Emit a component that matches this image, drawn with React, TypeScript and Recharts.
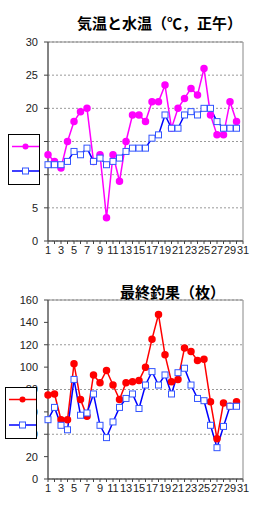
import { LineChart, Line, XAxis, YAxis, CartesianGrid, ReferenceArea } from 'recharts';

const days = [1, 2, 3, 4, 5, 6, 7, 8, 9, 10, 11, 12, 13, 14, 15, 16, 17, 18, 19, 20, 21, 22, 23, 24, 25, 26, 27, 28, 29, 30, 31];
const dayLabels = [1, 3, 5, 7, 9, 11, 13, 15, 17, 19, 21, 23, 25, 27, 29, 31];

// 気温と水温
const airTemp = [13, 12, 11, 15, 18, 19.5, 20, 12, 13, 3.5, 13, 9, 15, 19, 19, 18, 21, 21, 23.5, 17, 20, 21.5, 23, 22, 26, 19, 16, 16, 21, 18, null];
const waterTemp = [11.5, 11.5, 11.5, 12, 13.5, 13, 14, 12, 12.5, 11.5, 12, 12.5, 13.5, 14, 14, 14, 15.5, 16, 19, 17, 17, 19, 19.5, 19, 20, 20, 18, 17, 17, 17, null];
const tempTicks = [0, 5, 10, 15, 20, 25, 30];

// 最終釣果
const catchA = [75, 76, 53, 53, 103, 71, 56, 93, 86, 97, 84, 71, 86, 87, 88, 100, 125, 147, 111, 87, 89, 117, 114, 106, 107, 69, 36, 68, 65, 69, null];
const catchB = [53, 64, 48, 44, 89, 57, 59, 76, 48, 37, 51, 64, 72, 76, 63, 84, 96, 84, 93, 76, 95, 99, 84, 72, 70, 48, 28, 47, 65, 65, null];
const catchTicks = [0, 20, 40, 60, 80, 100, 120, 140, 160];

const MAGENTA = '#ff00ff';
const RED = '#ff0000';
const BLUE = '#0000ff';
const SQUARE = '#3355ff';
const FONT = '"Liberation Sans", Arial, sans-serif';
const JP_FONT = '"Noto Sans CJK JP", sans-serif';

const tempData = days.map((d, i) => ({ day: d, air: airTemp[i], water: waterTemp[i] }));
const catchData = days.map((d, i) => ({ day: d, a: catchA[i], b: catchB[i] }));

const tick = { fontSize: 11, fontFamily: FONT, fill: '#222' };

const SquareDot = (props: any) => {
  const { cx, cy, index } = props;
  if (cx == null || cy == null || props.value == null) return <g key={`s${index}`} />;
  return <rect key={`s${index}`} x={cx - 3} y={cy - 3} width={6} height={6} fill="#fff" stroke={SQUARE} strokeWidth={1} />;
};

function LegendBox({ left, top, width, height, rows, lineLeft, lineRight, color }: any) {
  return (
    <svg style={{ position: 'absolute', left, top }} width={width + 4} height={height + 2}>
      <rect x={0.5} y={0.5} width={width} height={height} fill="#fff" stroke="#000" strokeWidth={1} />
      <line x1={lineLeft} x2={lineRight} y1={rows[0]} y2={rows[0]} stroke={color} strokeWidth={1.5} />
      <circle cx={(lineLeft + lineRight) / 2} cy={rows[0]} r={3} fill={color} />
      <line x1={lineLeft} x2={lineRight} y1={rows[1]} y2={rows[1]} stroke={BLUE} strokeWidth={1.5} />
      <rect x={(lineLeft + lineRight) / 2 - 3} y={rows[1] - 3} width={6} height={6} fill="#fff" stroke={SQUARE} />
    </svg>
  );
}

function Panel({ data, keys, colors, ticks, max, top, bottom }: any) {
  return (
    <LineChart width={257} height={262} data={data} margin={{ top, right: 14, bottom, left: 0 }}>
      <CartesianGrid vertical={false} stroke="#999" strokeDasharray="2 2" />
      <ReferenceArea x1={1} x2={31} y1={0} y2={max} fill="none" stroke="#888" strokeWidth={1} />
      <XAxis
        dataKey="day"
        height={21}
        interval={0}
        tickSize={3}
        tickMargin={2}
        tick={tick}
        stroke="#444"
        tickFormatter={(v: number) => (dayLabels.includes(v) ? String(v) : '')}
      />
      <YAxis width={48} domain={[0, max]} ticks={ticks} tickSize={4} tickMargin={6} tick={tick} stroke="#444" />
      <Line type="linear" dataKey={keys[0]} stroke={colors[0]} strokeWidth={1.5} dot={{ r: 3, fill: colors[0], stroke: colors[0] }} activeDot={false} isAnimationActive={false} />
      <Line type="linear" dataKey={keys[1]} stroke={BLUE} strokeWidth={1.5} dot={SquareDot} activeDot={false} isAnimationActive={false} />
    </LineChart>
  );
}

export default function App() {
  return (
    <div style={{ position: 'absolute', left: 0, top: 0, width: 257, height: 524, background: '#fff', overflow: 'hidden' }}>
      <div style={{ position: 'absolute', left: 0, top: 0 }}>
        <Panel data={tempData} keys={['air', 'water']} colors={[MAGENTA]} ticks={tempTicks} max={30} top={42} bottom={0} />
      </div>
      <div style={{ position: 'absolute', left: 0, top: 262 }}>
        <Panel data={catchData} keys={['a', 'b']} colors={[RED]} ticks={catchTicks} max={160} top={38} bottom={24} />
      </div>
      <div style={{ position: 'absolute', left: 77, top: 14, fontFamily: JP_FONT, fontWeight: 700, fontSize: 15, lineHeight: '18px', whiteSpace: 'nowrap' }}>
        気温と水温（℃，正午）
      </div>
      <div style={{ position: 'absolute', left: 120, top: 283, fontFamily: JP_FONT, fontWeight: 700, fontSize: 15, lineHeight: '18px', whiteSpace: 'nowrap' }}>
        最終釣果（枚）
      </div>
      <LegendBox left={8} top={134} width={31} height={50} rows={[12.5, 37]} lineLeft={4} lineRight={31} color={MAGENTA} />
      <LegendBox left={5} top={387} width={31} height={51} rows={[12.5, 38]} lineLeft={4} lineRight={31} color={RED} />
    </div>
  );
}
